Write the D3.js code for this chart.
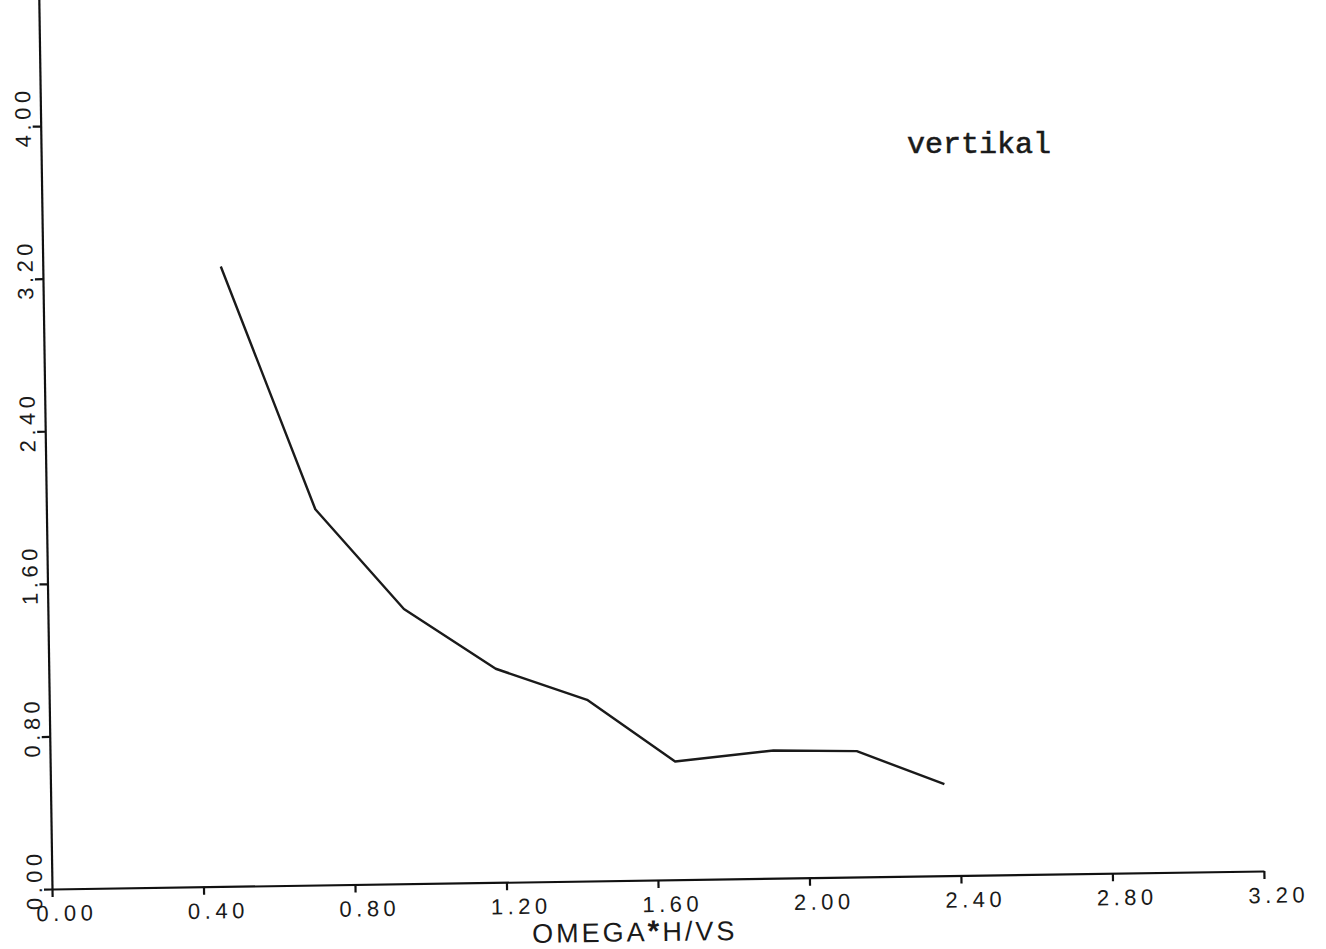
<!DOCTYPE html>
<html>
<head>
<meta charset="utf-8">
<script src="https://cdn.jsdelivr.net/npm/d3@7"></script>
<style>
  html, body { margin: 0; padding: 0; background: #fff; }
  svg { display: block; }
  .tick text { font-family: "Liberation Sans", Arial, sans-serif; font-size: 22px; fill: #1a1a1a; letter-spacing: 4.5px; }
  .domain, .tick line { stroke: #111; stroke-width: 2.2px; }
</style>
</head>
<body>
<svg id="chart" width="1326" height="949"></svg>
<script>
// ---- data ----
const omegaHVs = [0.47, 0.71, 0.94, 1.18, 1.42, 1.65, 1.91, 2.13, 2.36];
const vertikalValues = [3.25, 1.97, 1.44, 1.12, 0.95, 0.62, 0.67, 0.66, 0.48];
const xTickValues = [0.00, 0.40, 0.80, 1.20, 1.60, 2.00, 2.40, 2.80, 3.20];
const yTickValues = [0.00, 0.80, 1.60, 2.40, 3.20, 4.00];
const xAxisTitleParts = ["OMEGA", "*", "H/VS"];
const annotation = "vertikal";

const svg = d3.select("#chart");

// the scanned plot is slightly rotated; reproduce it
const plot = svg.append("g")
  .attr("transform", "translate(52,889) rotate(-0.85)");

const x = d3.scaleLinear().domain([0, 3.2]).range([0, 1212]);
const y = d3.scaleLinear().domain([0, 4.8]).range([0, -915.6]);

const fmt = d3.format(".2f");

// x axis
const gx = plot.append("g")
  .call(d3.axisBottom(x).tickValues(xTickValues).tickSize(8).tickSizeOuter(0).tickFormat(fmt));
gx.selectAll(".tick text")
  .attr("y", 32).attr("dy", null).attr("x", 14)
  .attr("text-anchor", "middle");

// y axis
const gy = plot.append("g")
  .call(d3.axisLeft(y).tickValues(yTickValues).tickSize(8).tickSizeOuter(0).tickFormat(fmt));
gy.selectAll(".tick text")
  .attr("transform", "rotate(-90)")
  .attr("x", 10).attr("y", -10).attr("dy", null)
  .attr("text-anchor", "middle");

// axis title
const title = plot.append("text")
  .attr("x", 582).attr("y", 61)
  .attr("text-anchor", "middle")
  .style("font-family", "'Liberation Sans', Arial, sans-serif")
  .style("font-size", "27px")
  .style("letter-spacing", "3px")
  .style("fill", "#1a1a1a");
title.append("tspan").text(xAxisTitleParts[0]);
title.append("tspan").style("font-size", "30px").style("font-weight", "bold").text(xAxisTitleParts[1]);
title.append("tspan").text(xAxisTitleParts[2]);

// curve
const data = omegaHVs.map((v, i) => ({ x: v, y: vertikalValues[i] }));
plot.append("path")
  .datum(data)
  .attr("fill", "none")
  .attr("stroke", "#1a1a1a")
  .attr("stroke-width", 2.4)
  .attr("stroke-linejoin", "round")
  .attr("d", d3.line().x(d => x(d.x)).y(d => y(d.y)));

// typed annotation
svg.append("text")
  .attr("x", 907).attr("y", 153)
  .style("font-family", "'Liberation Mono', 'Courier New', monospace")
  .style("font-size", "30px")
  .style("fill", "#1a1a1a")
  .style("stroke", "#1a1a1a")
  .style("stroke-width", "0.6px")
  .text(annotation);
</script>
</body>
</html>
